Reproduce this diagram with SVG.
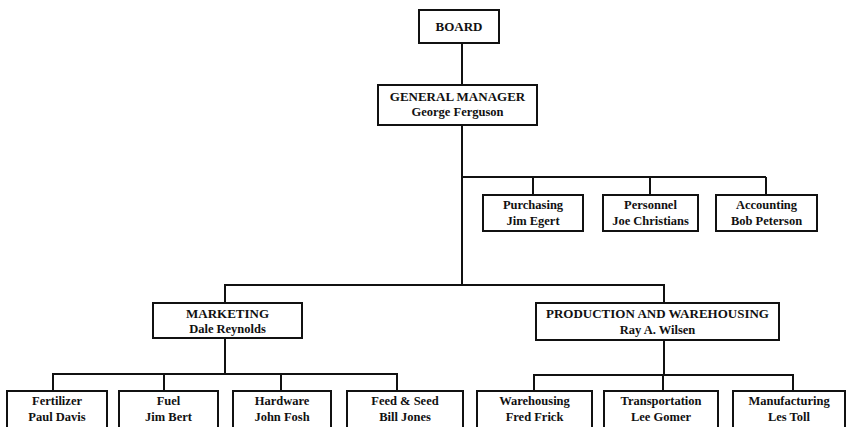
<svg xmlns="http://www.w3.org/2000/svg" width="848" height="427" viewBox="0 0 848 427">
<style>
.box{fill:#fff;stroke:#111;stroke-width:2}
.ln{fill:none;stroke:#111;stroke-width:2}
text{font-family:"Liberation Serif","Times New Roman",serif;font-weight:bold;fill:#111;text-anchor:middle}
.t{font-size:13px}
.s{font-size:12.5px}
</style>
<rect width="848" height="427" fill="#fff"/>
<g id="connectors">
<path class="ln" d="M462 43V85M462 125V285"/>
<path class="ln" d="M462 177H766M533 177V195M650 177V195M766 177V195"/>
<path class="ln" d="M225 303V285H664V303"/>
<path class="ln" d="M225 338V374M53 391V374H397V391M164 374V391M281 374V391"/>
<path class="ln" d="M664 340V375M534 391V375H793V391M663 375V391"/>
</g>
<g id="board"><rect class="box" x="419" y="10" width="80" height="33"/><text class="t" x="459" y="31">BOARD</text></g>
<g id="gm"><rect class="box" x="378" y="85" width="159" height="40"/><text class="t" x="457.5" y="101">GENERAL MANAGER</text><text class="s" x="457.5" y="116">George Ferguson</text></g>
<g id="purchasing"><rect class="box" x="483" y="195" width="100" height="36"/><text class="s" x="533" y="209">Purchasing</text><text class="s" x="533" y="225">Jim Egert</text></g>
<g id="personnel"><rect class="box" x="603" y="195" width="95" height="36"/><text class="s" x="650.5" y="209">Personnel</text><text class="s" x="650.5" y="225">Joe Christians</text></g>
<g id="accounting"><rect class="box" x="716" y="195" width="101" height="36"/><text class="s" x="766.5" y="209">Accounting</text><text class="s" x="766.5" y="225">Bob Peterson</text></g>
<g id="marketing"><rect class="box" x="153" y="303" width="149" height="35"/><text class="t" x="227.5" y="318">MARKETING</text><text class="s" x="227.5" y="333">Dale Reynolds</text></g>
<g id="production"><rect class="box" x="536" y="303" width="243" height="37"/><text class="t" x="657.5" y="318">PRODUCTION AND WAREHOUSING</text><text class="s" x="657.5" y="334">Ray A. Wilsen</text></g>
<g id="fertilizer"><rect class="box" x="7" y="391" width="100" height="45"/><text class="s" x="57" y="405">Fertilizer</text><text class="s" x="57" y="421">Paul Davis</text></g>
<g id="fuel"><rect class="box" x="119" y="391" width="99" height="45"/><text class="s" x="168.5" y="405">Fuel</text><text class="s" x="168.5" y="421">Jim Bert</text></g>
<g id="hardware"><rect class="box" x="233" y="391" width="98" height="45"/><text class="s" x="282" y="405">Hardware</text><text class="s" x="282" y="421">John Fosh</text></g>
<g id="feedseed"><rect class="box" x="347" y="391" width="116" height="45"/><text class="s" x="405" y="405">Feed &amp; Seed</text><text class="s" x="405" y="421">Bill Jones</text></g>
<g id="warehousing"><rect class="box" x="477" y="391" width="115" height="45"/><text class="s" x="534.5" y="405">Warehousing</text><text class="s" x="534.5" y="421">Fred Frick</text></g>
<g id="transportation"><rect class="box" x="604" y="391" width="114" height="45"/><text class="s" x="661" y="405">Transportation</text><text class="s" x="661" y="421">Lee Gomer</text></g>
<g id="manufacturing"><rect class="box" x="733" y="391" width="112" height="45"/><text class="s" x="789" y="405">Manufacturing</text><text class="s" x="789" y="421">Les Toll</text></g>
</svg>
